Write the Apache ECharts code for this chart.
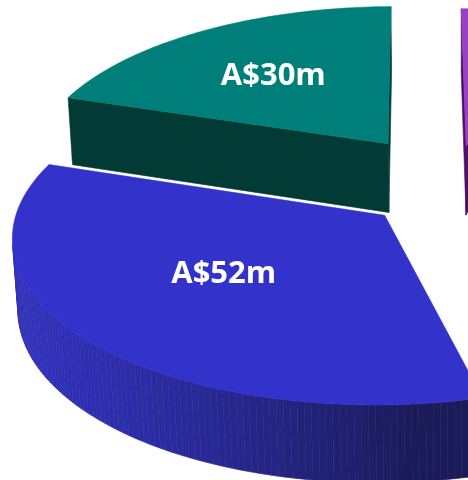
<!DOCTYPE html>
<html><head><meta charset="utf-8">
<script src="https://cdn.jsdelivr.net/npm/echarts@6/dist/echarts.min.js"></script>
<style>html,body{margin:0;padding:0;background:#fff}#c{width:468px;height:480px}</style>
</head><body><div id="c"></div>
<script>
// ---- data ----
const categories = ['Slice A', 'Slice B', 'Slice C', 'Slice D'];
const values = [30, 52, 64, 6];
const labelPrefix = 'A$';
const labelSuffix = 'm';

// ---- styles ----
const topColors = ['#007f7a', '#3333cc', '#8c8c8c', '#9a40c4'];
const radialWallColors = ['#023a36', '#25259c', '#5a5a5a', '#4a0f63'];
const wallLight = ['#005a55', '#3030b8', '#707070', '#6a2090'];
const wallDark = ['#012b28', '#1b1b5a', '#404040', '#3a0a50'];
const explode = [0.329, 0.267, 0.27, 0.25];
const labelRadius = [0.6, 0.525, 0.6, 0.6];
const labelAngleOffset = [0, 5.2, 0, 0];
const showLabel = [true, true, false, false];

// ---- projection (3D pie, perspective) ----
const CX = 456.3, CY = 185.2, F = 2890, D = 8, S = 0.446, C = 0.895, H = 0.22;
const START = 269.3; // degrees, angles decrease along the data order
const total = values.reduce((a, b) => a + b, 0);
const cam = [0, D * S, D * C];
const rad = d => d * Math.PI / 180;
function proj(x, y, z) {
  const depth = D - (y * S + z * C);
  return [CX + F * x / depth, CY + F * (z * S - y * C) / depth];
}
function hex2rgb(h) { return [1, 3, 5].map(i => parseInt(h.substr(i, 2), 16)); }
function mix(a, b, t) {
  const A = hex2rgb(a), B = hex2rgb(b);
  return 'rgb(' + A.map((v, i) => Math.round(v + (B[i] - v) * t)).join(',') + ')';
}
function norm(a) { a = a % 360; return a < 0 ? a + 360 : a; }
function wallT(phi) {
  phi = norm(phi);
  if (phi > 180) return 0;
  let t = (150 - phi) / 65;
  t = Math.max(0, Math.min(1, t));
  return Math.pow(t, 1.6);
}
// slice geometry from data
const slices = [];
let cum = 0;
values.forEach((v, i) => {
  const a1 = START - cum / total * 360;
  const a0 = a1 - v / total * 360;
  cum += v;
  const mid = (a0 + a1) / 2;
  const ox = explode[i] * Math.cos(rad(mid)), oz = explode[i] * Math.sin(rad(mid));
  slices.push({ a0, a1, mid, ox, oz, depth: D - oz * C });
});
const order = values.map((v, i) => i).sort((p, q) => slices[q].depth - slices[p].depth);

function visible(p, n) {
  return n[0] * (cam[0] - p[0]) + n[1] * (cam[1] - p[1]) + n[2] * (cam[2] - p[2]) > 0;
}

function renderItem(params, api) {
  const i = api.value(0);
  const rank = params.dataIndex;
  const sl = slices[i];
  const { a0, a1, ox, oz } = sl;
  const pt = (phi, r, y) => [ox + r * Math.cos(rad(phi)), y, oz + r * Math.sin(rad(phi))];
  const P = p => proj(p[0], p[1], p[2]);
  const children = [];
  const base = rank * 10;
  // outer wall facets
  const steps = Math.max(2, Math.ceil((a1 - a0) / 1));
  const dA = (a1 - a0) / steps;
  for (let k = 0; k < steps; k++) {
    const f0 = a0 + k * dA, f1 = f0 + dA, fm = (f0 + f1) / 2;
    const n = [Math.cos(rad(fm)), 0, Math.sin(rad(fm))];
    if (!visible(pt(fm, 1, -H / 2), n)) continue;
    const col = mix(wallLight[i], wallDark[i], wallT(fm));
    children.push({
      type: 'polygon', z2: base + 1,
      shape: { points: [P(pt(f0, 1, 0)), P(pt(f1, 1, 0)), P(pt(f1, 1, -H)), P(pt(f0, 1, -H))] },
      style: { fill: col, stroke: col, lineWidth: 0.6 }
    });
  }
  // radial walls
  [[a0, a0 - 90], [a1, a1 + 90]].forEach(([a, na]) => {
    const n = [Math.cos(rad(na)), 0, Math.sin(rad(na))];
    if (!visible(pt(a, 0.5, -H / 2), n)) return;
    children.push({
      type: 'polygon', z2: base + 2,
      shape: { points: [P(pt(a, 0, 0)), P(pt(a, 1, 0)), P(pt(a, 1, -H)), P(pt(a, 0, -H))] },
      style: { fill: radialWallColors[i], stroke: radialWallColors[i], lineWidth: 0.6 }
    });
  });
  // top face
  const topPts = [P(pt(0, 0, 0))];
  for (let k = 0; k <= steps; k++) topPts.push(P(pt(a0 + k * dA, 1, 0)));
  children.push({
    type: 'polygon', z2: base + 5,
    shape: { points: topPts },
    style: { fill: topColors[i], stroke: topColors[i], lineWidth: 0.6 }
  });
  if (showLabel[i]) {
    const lp = P(pt(sl.mid + labelAngleOffset[i], labelRadius[i], 0));
    children.push({
      type: 'text', z2: 200,
      style: {
        text: labelPrefix + values[i] + labelSuffix,
        x: lp[0], y: lp[1] + 2,
        fill: '#ffffff',
        font: 'bold 31px "Open Sans", "Liberation Sans", sans-serif',
        align: 'center', verticalAlign: 'middle'
      }
    });
  }
  return { type: 'group', children };
}

const chart = echarts.init(document.getElementById('c'), null, { renderer: 'canvas' });
chart.setOption({
  backgroundColor: '#ffffff',
  animation: false,
  series: [{
    type: 'custom',
    name: 'Pie',
    coordinateSystem: 'none',
    silent: true,
    renderItem,
    data: order.map(i => ({ name: categories[i], value: [i, values[i]] }))
  }]
});
</script></body></html>
